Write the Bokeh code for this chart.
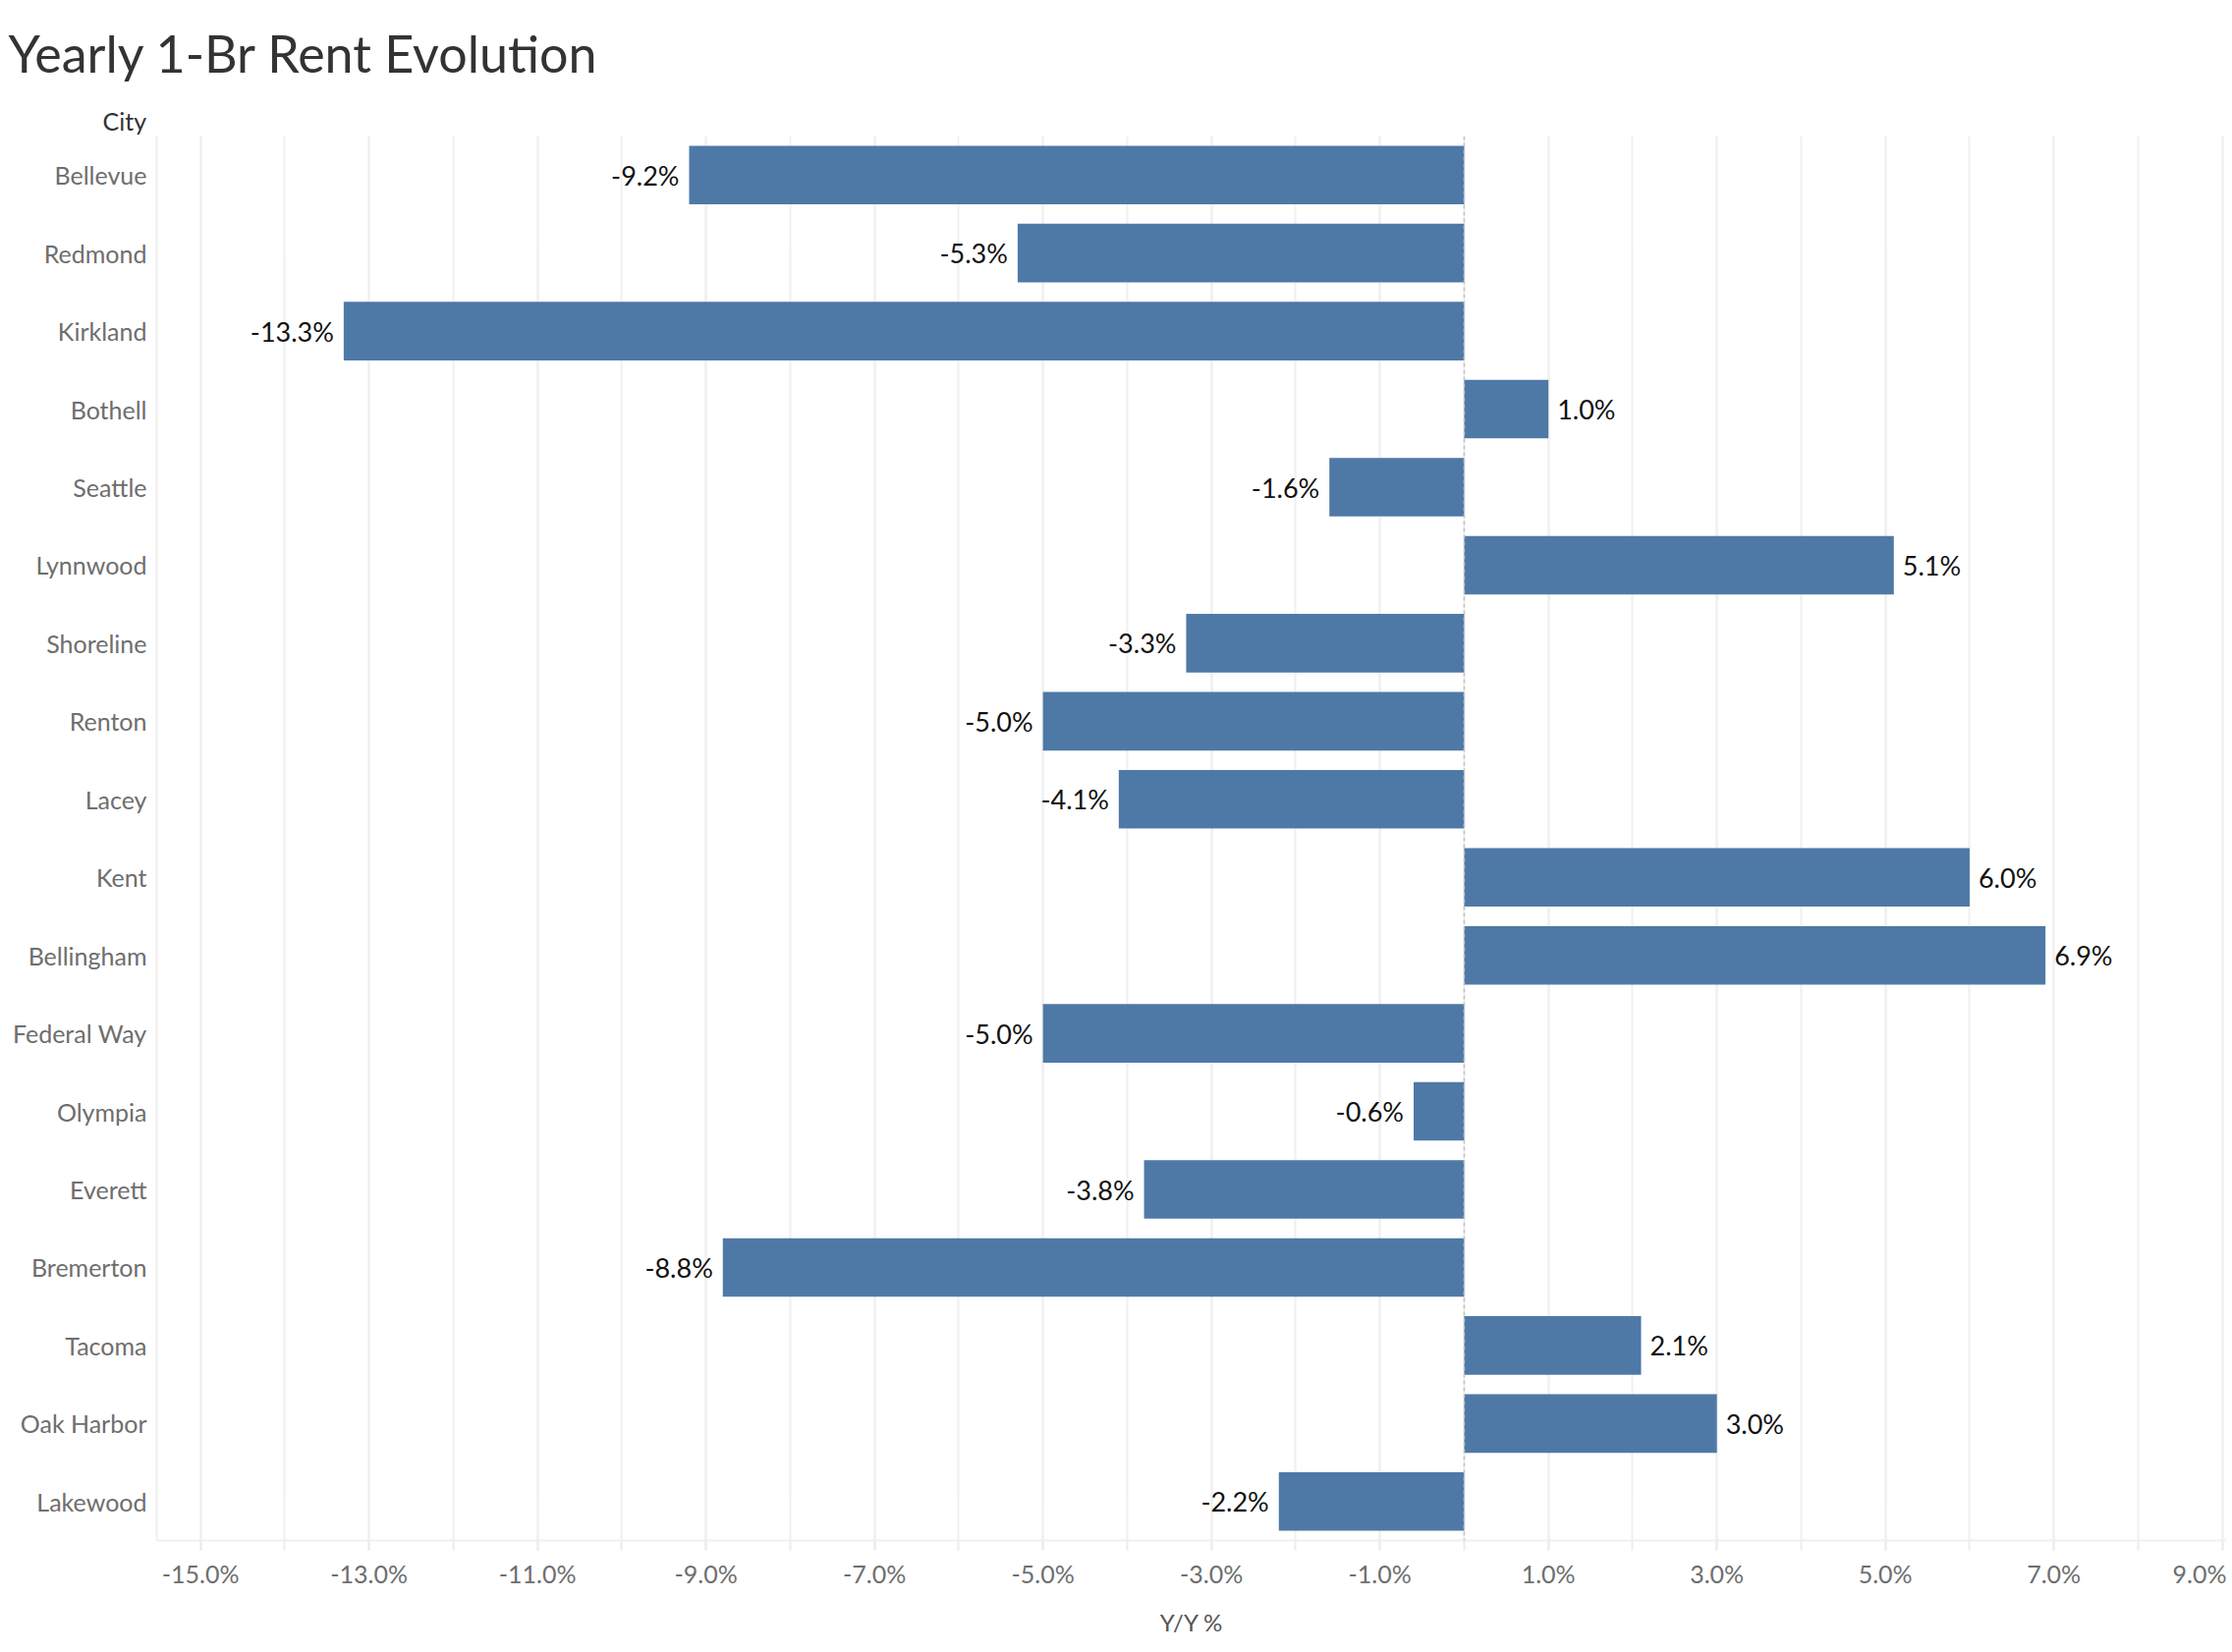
from bokeh.core.properties import value
from bokeh.embed import file_html
from bokeh.models import ColumnDataSource, FactorRange, FixedTicker, Span, Title
from bokeh.plotting import figure
from bokeh.resources import INLINE

cities = [
    "Bellevue", "Redmond", "Kirkland", "Bothell", "Seattle", "Lynnwood",
    "Shoreline", "Renton", "Lacey", "Kent", "Bellingham", "Federal Way",
    "Olympia", "Everett", "Bremerton", "Tacoma", "Oak Harbor", "Lakewood",
]
yoy = [-9.2, -5.3, -13.3, 1.0, -1.6, 5.1, -3.3, -5.0, -4.1, 6.0, 6.9, -5.0,
       -0.6, -3.8, -8.8, 2.1, 3.0, -2.2]

tick_values = [-15, -13, -11, -9, -7, -5, -3, -1, 1, 3, 5, 7, 9]
minor_values = list(range(-15, 10))

FONT = "Lato"

source = ColumnDataSource(data={
    "city": cities,
    "yoy": yoy,
    "label": [f"{v:.1f}%" for v in yoy],
    "align": ["left" if v >= 0 else "right" for v in yoy],
    "offset": [9 if v >= 0 else -10 for v in yoy],
})

p = figure(
    width=2266,
    height=1674,
    y_range=FactorRange(factors=cities[::-1], range_padding=0),
    x_range=(-15.52, 9.05),
    output_backend="svg",
    toolbar_location=None,
    tools="",
    min_border_left=159,
    min_border_right=0,
    min_border_top=138,
    min_border_bottom=106,
)
p.outline_line_color = None
p.background_fill_color = "white"
p.border_fill_color = "white"

p.hbar(y="city", left=0, right="yoy", height=0.75, source=source,
       fill_color="#4e79a7", line_color=None)

p.add_layout(Span(location=0, dimension="height", line_color="#c4c4c4",
                  line_width=1.5, line_dash="4 3"))

p.text(x="yoy", y="city", text="label", source=source,
       x_offset="offset", text_align="align", text_baseline="middle",
       text_font=value(FONT), text_font_size="27px", text_color="#111111")

# x axis
p.xaxis.ticker = FixedTicker(ticks=tick_values, minor_ticks=minor_values)
p.xaxis.major_label_overrides = {t: f"{t:.1f}%" for t in tick_values}
p.xaxis.axis_line_color = "#f0f0f0"
p.xaxis.axis_line_width = 2
p.xaxis.major_tick_line_color = "#ececec"
p.xaxis.minor_tick_line_color = "#ececec"
p.xaxis.major_tick_line_width = 2
p.xaxis.minor_tick_line_width = 2
p.xaxis.major_tick_in = 0
p.xaxis.minor_tick_in = 0
p.xaxis.major_tick_out = 10
p.xaxis.minor_tick_out = 10
p.xaxis.major_label_standoff = 8
p.xaxis.major_label_text_font = FONT
p.xaxis.major_label_text_font_size = "25px"
p.xaxis.major_label_text_color = "#6e6e6e"
p.xaxis.axis_label = "Y/Y %"
p.xaxis.axis_label_text_font = FONT
p.xaxis.axis_label_text_font_size = "24px"
p.xaxis.axis_label_text_font_style = "normal"
p.xaxis.axis_label_text_color = "#555555"
p.xaxis.axis_label_standoff = 17

p.xgrid.grid_line_color = "#f0f0f0"
p.xgrid.grid_line_width = 2
p.xgrid.minor_grid_line_color = "#f0f0f0"
p.xgrid.minor_grid_line_width = 2
p.ygrid.grid_line_color = None

# y axis
p.yaxis.axis_line_color = "#f0f0f0"
p.yaxis.axis_line_width = 2
p.yaxis.major_tick_line_color = None
p.yaxis.minor_tick_line_color = None
p.yaxis.major_tick_out = 0
p.yaxis.major_label_standoff = 10
p.yaxis.major_label_text_font = FONT
p.yaxis.major_label_text_font_size = "25px"
p.yaxis.major_label_text_color = "#6e6e6e"

# header over the city labels, then the chart title above it
p.add_layout(Title(text="City", align="left", offset=-55, standoff=2,
                   text_font=FONT, text_font_size="25px",
                   text_font_style="normal", text_color="#333333"), "above")
p.add_layout(Title(text="Yearly 1-Br Rent Evolution", align="left",
                   offset=-151, standoff=40, text_font=FONT,
                   text_font_size="52px", text_font_style="normal",
                   text_color="#333333"), "above")

open("out.html", "w").write(file_html(p, INLINE))
